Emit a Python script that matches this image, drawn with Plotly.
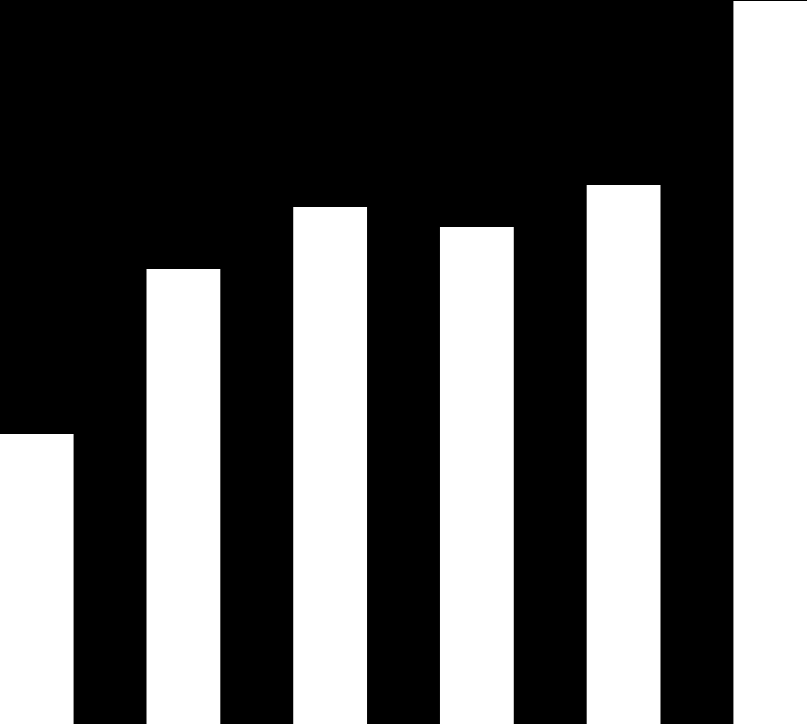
import plotly.graph_objects as go

# Valores (altura das barras em pixels, base = 724)
categorias = ["A", "B", "C", "D", "E", "F"]
valores = [290, 455, 517, 497, 539, 723]
y_max = 724

fig = go.Figure(
    go.Bar(
        x=categorias,
        y=valores,
        marker=dict(color="white", line=dict(width=0)),
        hoverinfo="skip",
    )
)

fig.update_layout(
    width=807,
    height=724,
    margin=dict(l=0, r=0, t=0, b=0),
    paper_bgcolor="black",
    plot_bgcolor="black",
    bargap=0.497,
    showlegend=False,
)
fig.update_xaxes(visible=False, range=[-0.25, 5.25])
fig.update_yaxes(visible=False, range=[0, y_max])

# Remove a margem padrão da página para o gráfico ocupar a janela toda
ajuste_pagina = (
    "document.body.style.margin='0';"
    "document.body.style.overflow='hidden';"
    "document.body.style.background='black';"
)

fig.write_html(
    "out.html",
    config={"displayModeBar": False},
    post_script=ajuste_pagina,
)
